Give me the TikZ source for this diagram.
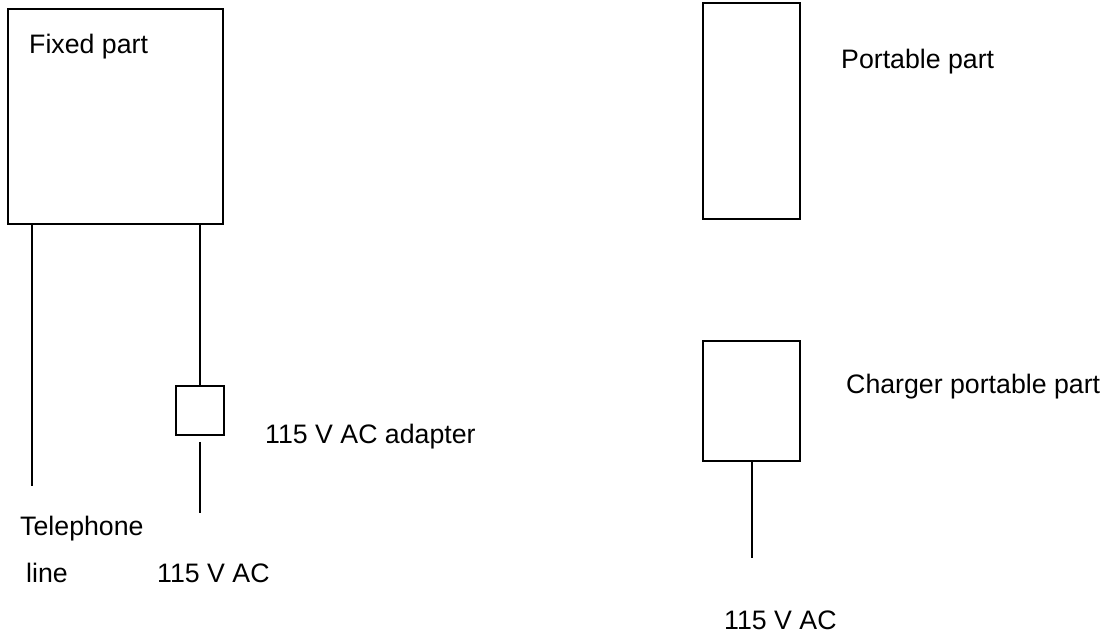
\documentclass[tikz,border=0pt]{standalone}
\usepackage{fontspec}
\setmainfont{Liberation Sans}
\usetikzlibrary{calc}

\begin{document}
\begin{tikzpicture}[x=0.03cm, y=-0.03cm,
        part/.style={draw=black, line width=1.6pt, inner sep=0pt},
        wire/.style={black, line width=1.6pt},
        lbl/.style={anchor=base west, inner sep=0pt, font=\fontsize{22.8}{26}\selectfont}]
        \useasboundingbox (0,0) rectangle (1105,636);

        \node[part, minimum width=215*0.03cm, minimum height=215*0.03cm] (fixed) at (115.5,116.5) {};
        \node[part, minimum width=48*0.03cm, minimum height=49*0.03cm] (adapter) at (200,410.5) {};
        \node[part, minimum width=97*0.03cm, minimum height=216*0.03cm] (portable) at (751.5,111) {};
        \node[part, minimum width=97*0.03cm, minimum height=120*0.03cm] (charger) at (751.5,401) {};

        \coordinate (telend) at (32,486);
        \coordinate (acend) at (200,513);
        \coordinate (chend) at (752,558);

        \draw[wire] (fixed.south -| telend) -- (telend);
        \draw[wire] (fixed.south -| adapter.north) -- (adapter.north);
        \draw[wire] ($(adapter.south)+(0,6)$) -- (acend);
        \draw[wire] (charger.south -| chend) -- (chend);

        \node[lbl] (fixedlbl) at (29,53) {Fixed part};
        \node[lbl] (tel) at (20,535) {Telephone};
        \node[lbl] (telline) at (26,582) {line};
        \node[lbl] (acfixed) at (157,582) {115 V AC};
        \node[lbl] (adapterlbl) at (265,443) {115 V AC adapter};
        \node[lbl] (portablelbl) at (841,68) {Portable part};
        \node[lbl] (chargerlbl) at (846,393) {Charger portable part};
        \node[lbl] (accharger) at (724,629) {115 V AC};
    \end{tikzpicture}
\end{document}
